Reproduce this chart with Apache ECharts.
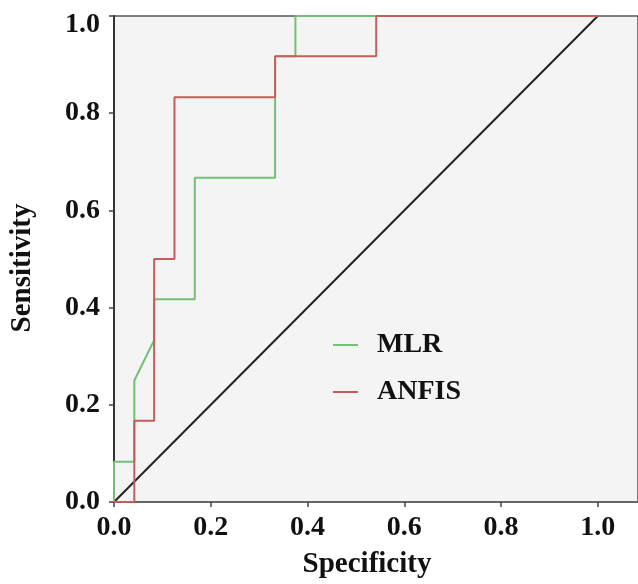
<!DOCTYPE html>
<html>
<head>
<meta charset="utf-8">
<script src="https://cdn.jsdelivr.net/npm/echarts@6/dist/echarts.min.js"></script>
<style>html,body{margin:0;padding:0;background:#fff}#c{width:638px;height:584px}</style>
</head>
<body>
<div id="c"></div>
<script>
// Data
const mlrX   = [0, 0,     0.042, 0.042, 0.083, 0.083, 0.167, 0.167, 0.333, 0.333, 0.375, 0.375, 1.0];
const mlrY   = [0, 0.083, 0.083, 0.25,  0.333, 0.417, 0.417, 0.667, 0.667, 0.917, 0.917, 1.0,   1.0];
const anfisX = [0, 0.042, 0.042, 0.083, 0.083, 0.125, 0.125, 0.333, 0.333, 0.542, 0.542, 1.0];
const anfisY = [0, 0,     0.167, 0.167, 0.5,   0.5,   0.833, 0.833, 0.917, 0.917, 1.0,   1.0];
const refX = [0, 1];
const refY = [0, 1];
const seriesNames = ['MLR', 'ANFIS'];
const xTitle = 'Specificity';
const yTitle = 'Sensitivity';

function pairs(xs, ys) { return xs.map((x, i) => [x, ys[i]]); }

const FONT = "'Liberation Serif', 'Times New Roman', serif";
const chart = echarts.init(document.getElementById('c'), null, {renderer: 'canvas'});
chart.setOption({
  animation: false,
  backgroundColor: '#ffffff',
  grid: {
    left: 110, right: 0, top: 16, bottom: 80,
    show: true, backgroundColor: '#f4f4f4', borderColor: '#555', borderWidth: 1.5
  },
  legend: {
    data: seriesNames,
    orient: 'vertical',
    left: 328, top: 326,
    itemWidth: 25, itemHeight: 2, itemGap: 19,
    icon: 'rect',
    textStyle: {fontFamily: FONT, fontWeight: 'bold', fontSize: 28, color: '#111', padding: [0, 0, 0, 14]}
  },
  xAxis: {
    type: 'value', min: 0, max: 1.0831, interval: 0.2,
    name: xTitle, nameLocation: 'middle', nameGap: 48,
    nameTextStyle: {fontFamily: FONT, fontWeight: 'bold', fontSize: 29, color: '#111', padding: [0, 18, 0, 0]},
    axisLine: {show: true, onZero: false, lineStyle: {color: '#666', width: 2}},
    axisTick: {show: true, length: 5, lineStyle: {color: '#444', width: 1.5}},
    axisLabel: {
      fontFamily: FONT, fontWeight: 'bold', fontSize: 28, color: '#111', margin: 12,
      showMaxLabel: false,
      formatter: v => v.toFixed(1)
    },
    splitLine: {show: false}
  },
  yAxis: {
    type: 'value', min: 0, max: 1, interval: 0.2,
    name: yTitle, nameLocation: 'middle', nameGap: 77,
    nameTextStyle: {fontFamily: FONT, fontWeight: 'bold', fontSize: 29, color: '#111', padding: [0, 18, 0, 0]},
    axisLine: {show: true, onZero: false, lineStyle: {color: '#333', width: 2}},
    axisTick: {show: true, length: 5, lineStyle: {color: '#444', width: 1.5}},
    axisLabel: {
      fontFamily: FONT, fontWeight: 'bold', fontSize: 28, color: '#111', margin: 14,
      formatter: v => v >= 1 ? '{t|' + v.toFixed(1) + '}' : v.toFixed(1),
      rich: {t: {fontFamily: FONT, fontWeight: 'bold', fontSize: 28, color: '#111', padding: [18, 0, 0, 0]}}
    },
    splitLine: {show: false}
  },
  series: [
    {
      name: 'ref', type: 'line', data: pairs(refX, refY), symbol: 'none',
      lineStyle: {color: '#222', width: 2}, z: 2
    },
    {
      name: seriesNames[0], type: 'line', data: pairs(mlrX, mlrY), symbol: 'none',
      color: '#74bf74', lineStyle: {color: '#74bf74', width: 2}, z: 3
    },
    {
      name: seriesNames[1], type: 'line', data: pairs(anfisX, anfisY), symbol: 'none',
      color: '#c25f5d', lineStyle: {color: '#c25f5d', width: 2}, z: 4
    }
  ]
});
</script>
</body>
</html>
